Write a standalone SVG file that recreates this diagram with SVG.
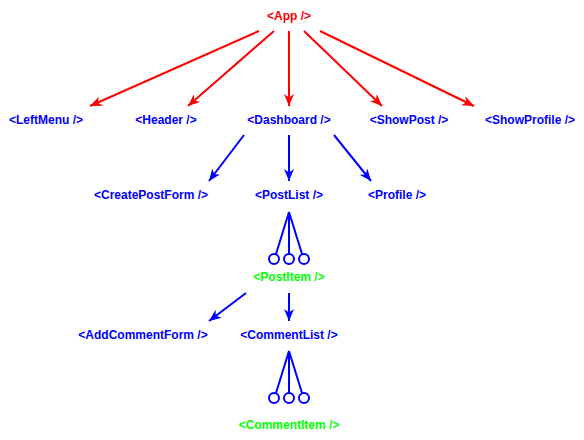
<svg xmlns="http://www.w3.org/2000/svg" width="584" height="440" viewBox="0 0 584 440">
<defs>
<style>
text{font-family:"Liberation Sans",Arial,sans-serif;font-weight:bold;font-size:12px;text-anchor:middle}
.red{fill:#FF0000}.blue{fill:#0000FF}.green{fill:#00FF00}
.er{stroke:#FF0000;stroke-width:2;fill:none}
.eb{stroke:#0000FF;stroke-width:2;fill:none}
.ring{stroke:#0000FF;stroke-width:2;fill:#FFFFFF}
</style>
<marker id="ar" viewBox="0 0 12 10" refX="12" refY="5" markerWidth="12" markerHeight="10" markerUnits="userSpaceOnUse" orient="auto"><path d="M0,0 L12,5 L0,10 L3.5,5 z" fill="#FF0000"/></marker>
<marker id="ab" viewBox="0 0 12 10" refX="12" refY="5" markerWidth="12" markerHeight="10" markerUnits="userSpaceOnUse" orient="auto"><path d="M0,0 L12,5 L0,10 L3.5,5 z" fill="#0000FF"/></marker>
</defs>
<g id="connectors">
<line class="er" x1="259" y1="31" x2="90" y2="106" marker-end="url(#ar)"/>
<line class="er" x1="274" y1="31" x2="188" y2="106" marker-end="url(#ar)"/>
<line class="er" x1="289" y1="31" x2="289" y2="106" marker-end="url(#ar)"/>
<line class="er" x1="304" y1="31" x2="382" y2="106" marker-end="url(#ar)"/>
<line class="er" x1="320" y1="31" x2="474" y2="106" marker-end="url(#ar)"/>
<line class="eb" x1="244" y1="135" x2="209" y2="181" marker-end="url(#ab)"/>
<line class="eb" x1="289" y1="135" x2="289" y2="181" marker-end="url(#ab)"/>
<line class="eb" x1="334" y1="135" x2="371" y2="181" marker-end="url(#ab)"/>
<line class="eb" x1="289" y1="212" x2="276" y2="254"/>
<line class="eb" x1="289" y1="212" x2="289" y2="254"/>
<line class="eb" x1="289" y1="212" x2="302" y2="254"/>
<circle class="ring" cx="274" cy="259" r="5"/>
<circle class="ring" cx="289" cy="259" r="5"/>
<circle class="ring" cx="304" cy="259" r="5"/>
<line class="eb" x1="246" y1="293" x2="209" y2="321" marker-end="url(#ab)"/>
<line class="eb" x1="289" y1="293" x2="289" y2="321" marker-end="url(#ab)"/>
<line class="eb" x1="289" y1="351" x2="276" y2="393"/>
<line class="eb" x1="289" y1="351" x2="289" y2="393"/>
<line class="eb" x1="289" y1="351" x2="302" y2="393"/>
<circle class="ring" cx="274" cy="398" r="5"/>
<circle class="ring" cx="289" cy="398" r="5"/>
<circle class="ring" cx="304" cy="398" r="5"/>
</g>
<g id="app"><text class="red" x="289" y="20">&lt;App /&gt;</text></g>
<g id="leftmenu"><text class="blue" x="46" y="124">&lt;LeftMenu /&gt;</text></g>
<g id="header"><text class="blue" x="166" y="124">&lt;Header /&gt;</text></g>
<g id="dashboard"><text class="blue" x="289" y="124">&lt;Dashboard /&gt;</text></g>
<g id="showpost"><text class="blue" x="409" y="124">&lt;ShowPost /&gt;</text></g>
<g id="showprofile"><text class="blue" x="530" y="124">&lt;ShowProfile /&gt;</text></g>
<g id="createpostform"><text class="blue" x="151" y="199">&lt;CreatePostForm /&gt;</text></g>
<g id="postlist"><text class="blue" x="289" y="199">&lt;PostList /&gt;</text></g>
<g id="profile"><text class="blue" x="397" y="199">&lt;Profile /&gt;</text></g>
<g id="postitem"><text class="green" x="289" y="281">&lt;PostItem /&gt;</text></g>
<g id="addcommentform"><text class="blue" x="143" y="339">&lt;AddCommentForm /&gt;</text></g>
<g id="commentlist"><text class="blue" x="289" y="339">&lt;CommentList /&gt;</text></g>
<g id="commentitem"><text class="green" x="289" y="429">&lt;CommentItem /&gt;</text></g>
</svg>
